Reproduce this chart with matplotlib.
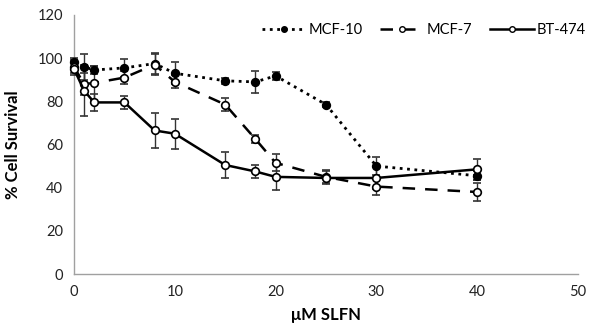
import matplotlib
matplotlib.use("Agg")
import matplotlib.pyplot as plt
from matplotlib.lines import Line2D

plt.rcParams['font.family'] = ['Lato', 'DejaVu Sans']

conc = [0, 1, 2, 5, 8, 10, 15, 18, 20, 25, 30, 40]
mcf10 = [98, 96, 94.5, 95.5, 97.5, 93, 89.5, 89, 91.8, 78.5, 50, 45.5]
mcf10_err = [2, 6, 2, 4, 5, 5, 1.5, 5, 2, 1, 4, 2]
mcf7 = [96, 88, 88.5, 91, 97, 89, 78.5, 62.5, 51.5, 45, 40.5, 38]
mcf7_err = [3, 5, 8, 3, 5, 3, 3, 2, 4, 3, 4, 4]
bt474 = [95, 85, 79.5, 79.5, 66.5, 65, 50.5, 47.5, 45, 44.5, 44.5, 48.5]
bt474_err = [3, 12, 4, 3, 8, 7, 6, 3, 6, 3, 5, 5]

fig = plt.figure(figsize=(5.9, 3.28), dpi=100)
ax = fig.add_axes([74/590, 1-274/328, (578-74)/590, (274-15)/328])

common = dict(color='black', ecolor='#333333', elinewidth=1, capsize=3, capthick=1,
              markersize=5.5, markeredgewidth=1.2)
styles = [(':', 2.0, 'black'), ((0, (5, 4)), 1.8, 'white'), ('-', 1.8, 'white')]
series = [(mcf10, mcf10_err, 'MCF-10'), (mcf7, mcf7_err, 'MCF-7'), (bt474, bt474_err, 'BT-474')]
handles = []
for (vals, err, lab), (ls, lw, fc) in zip(series, styles):
    c = ax.errorbar(conc, vals, yerr=err, linestyle=ls, linewidth=lw, marker='o',
                    markerfacecolor=fc, **common)
    for art in c.get_children():
        art.set_clip_on(False)
    c[0].set_clip_on(False)
    handles.append(Line2D([], [], color='black', linestyle=ls, linewidth=lw, marker='o',
                          markersize=4, markerfacecolor=fc, markeredgewidth=1, label=lab))

ax.set_xlim(0, 50)
ax.set_ylim(0, 120)
ax.set_xticks([0, 10, 20, 30, 40, 50])
ax.set_yticks([0, 20, 40, 60, 80, 100, 120])
for s in ['top', 'right']:
    ax.spines[s].set_visible(False)
for s in ['left', 'bottom']:
    ax.spines[s].set_color('#a0a0a0')
    ax.spines[s].set_linewidth(1)
    ax.spines[s].set_zorder(0)
ax.tick_params(length=0, labelsize=10.5, colors='#222222', pad=8)
ax.set_xlabel('μM SLFN', fontsize=12, fontweight='bold', labelpad=6)
ax.set_ylabel('% Cell Survival', fontsize=12, fontweight='bold', labelpad=12)

leg = ax.legend(handles=handles, loc='center right', bbox_to_anchor=(1.015, 0.942), ncol=3,
                frameon=False, fontsize=10.5, handlelength=3.0, columnspacing=1.2,
                handletextpad=0.2, borderpad=0, borderaxespad=0)

fig.savefig('out.png', dpi=100)
